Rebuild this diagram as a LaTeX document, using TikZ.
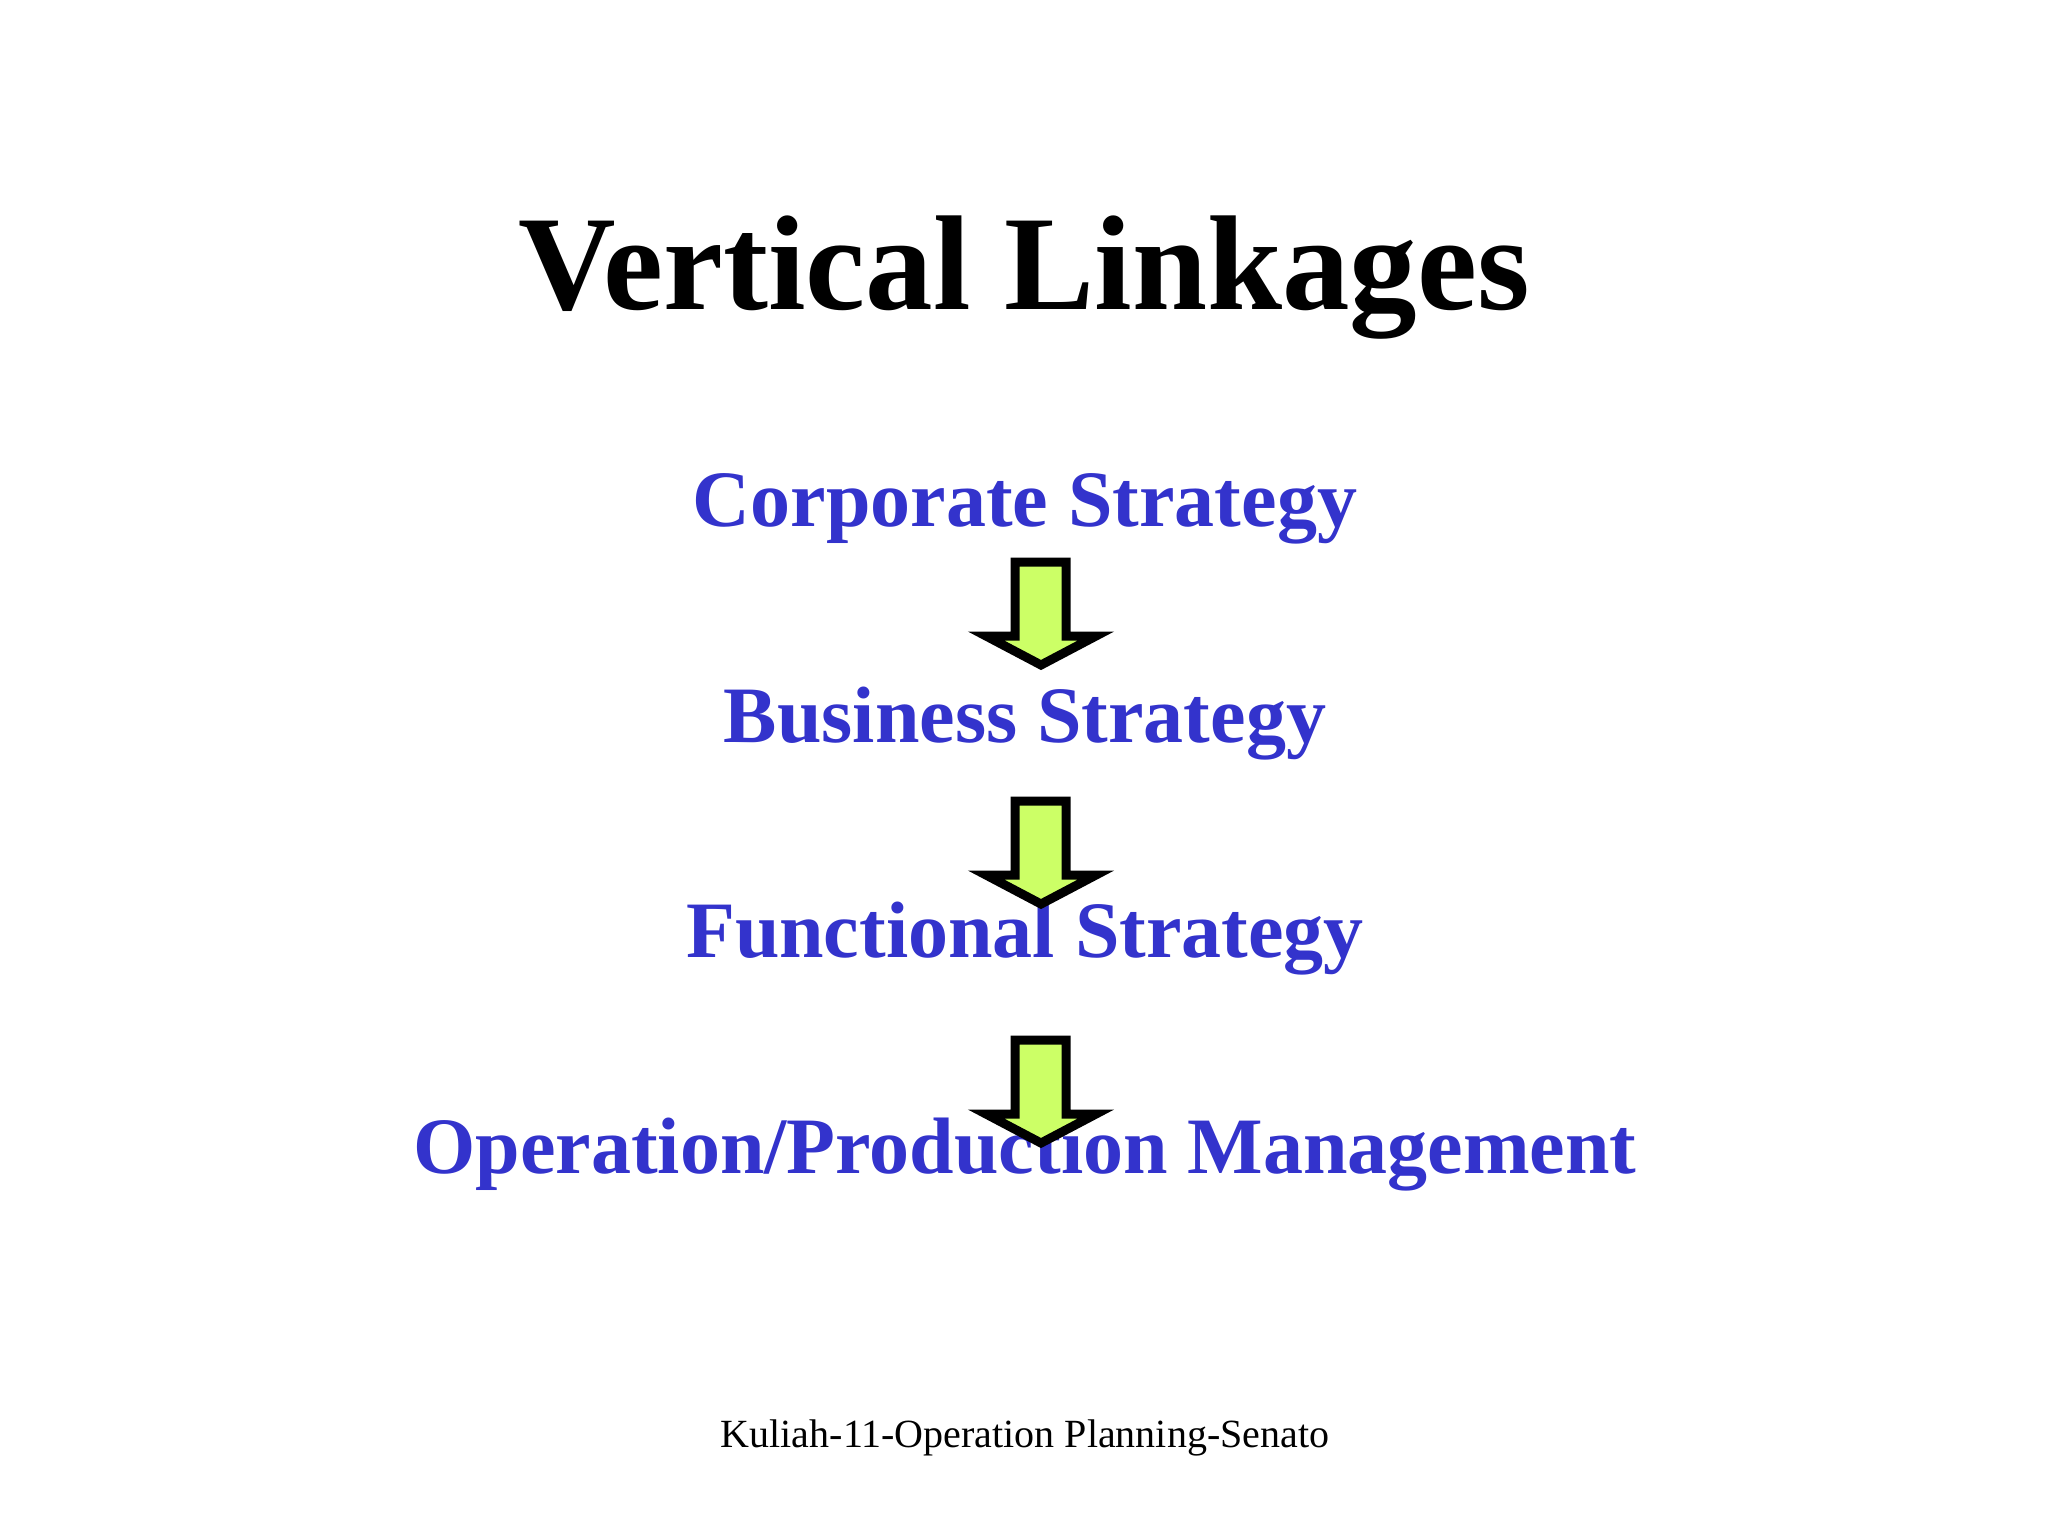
\documentclass[tikz,border=0pt]{standalone}
\usepackage{fontspec}
\setmainfont{Liberation Serif}
\definecolor{txtblue}{RGB}{51,51,204}
\definecolor{arrowfill}{RGB}{204,255,102}
\begin{document}
\begin{tikzpicture}[x=0.5pt,y=-0.5pt,
  heading/.style={font=\fontsize{67.5}{80}\selectfont\bfseries, anchor=base, inner sep=0},
  level/.style={font=\fontsize{40}{48}\selectfont\bfseries, text=txtblue, anchor=base, inner sep=0},
  foot/.style={font=\fontsize{20}{24}\selectfont, anchor=base, inner sep=0},
  blockarrow/.style={draw=black, fill=arrowfill, line width=4.5pt, miter limit=10, line join=miter}]
\useasboundingbox (0,0) rectangle (2048,1536);
\fill[white] (0,0) rectangle (2048,1536);
\node[heading] (title) at (1024,309) {Vertical Linkages};
\node[level] (corp) at (1025,526) {Corporate Strategy};
\node[level] (bus) at (1025,742) {Business Strategy};
\node[level] (func) at (1025,957) {Functional Strategy};
\node[level] (op) at (1025,1173) {Operation/Production Management};
\node[foot] (footer) at (1025,1447) {Kuliah-11-Operation Planning-Senato};
\foreach \dy/\n in {0/1,239/2,478/3} {
  \coordinate (tip\n) at ({1041},{665+\dy});
  \draw[blockarrow] ([shift={(-26,-103)}]tip\n) -- ([shift={(25,-103)}]tip\n)
    -- ([shift={(25,-29)}]tip\n) -- ([shift={(55,-29)}]tip\n)
    -- (tip\n) -- ([shift={(-55,-29)}]tip\n) -- ([shift={(-26,-29)}]tip\n) -- cycle;
}
\end{tikzpicture}
\end{document}
